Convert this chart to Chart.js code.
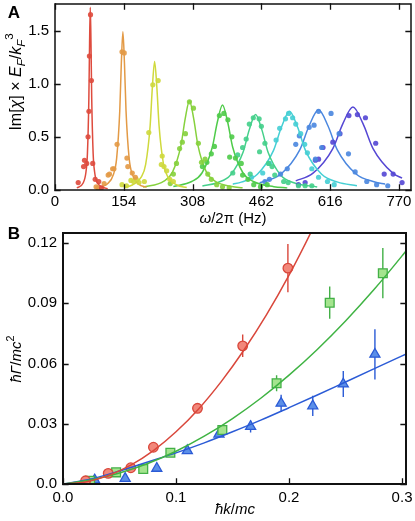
<!DOCTYPE html>
<html>
<head>
<meta charset="utf-8">
<title>Resonances and damping</title>
<style>
  body, html { margin:0; padding:0; background:#fff; width:415px; height:521px; overflow:hidden; }
  canvas { position:absolute; left:0; }
  #chartA { top:0; }
  #chartB { top:222px; }
</style>
</head>
<body>
<canvas id="chartA" width="415" height="232"></canvas>
<canvas id="chartB" width="415" height="299"></canvas>
<script src="https://cdn.jsdelivr.net/npm/chart.js"></script>
<script>
// ---- panel A : response peaks, [frequency, Im chi] ----
const freqTicks = [0, 154, 308, 462, 616, 770];
const chiTicks = [0, 0.5, 1.0, 1.5];
const peakColors = ['#de4b3e', '#e39a46', '#cfd93c', '#86d13d', '#4fcb4a', '#44d08a', '#45cfd4', '#4b87df', '#5547d4'];

const dots1 = [[52,0.07],[64,0.22],[66,0.28],[71,0.25],[74,0.50],[76,0.74],[77,1.26],[79.5,1.65],[81.5,1.03],[84.5,0.25],[90,0.10],[98,0.08],[104,0.02]];
const dots2 = [[92,0.03],[96,0.02],[110,0.06],[119,0.14],[122,0.15],[129,0.20],[132,0.20],[139,0.43],[150,1.30],[155,1.29],[161,0.30],[163,0.22],[173,0.16],[180,0.12]];
const dots3 = [[150,0.05],[160,0.04],[170,0.09],[176,0.08],[182,0.10],[188,0.07],[200,0.08],[210,0.54],[219,0.99],[231,1.03],[240,0.32],[238,0.24],[244,0.22],[250,0.18],[257,0.10],[265,0.08]];
const dots4 = [[258,0.06],[265,0.15],[272,0.25],[279,0.39],[285,0.45],[292,0.53],[301,0.83],[310,0.77],[321,0.44],[328,0.26],[336,0.29],[342,0.15],[350,0.10],[362,0.05],[375,0.03],[390,0.02]];
const dots5 = [[330,0.22],[340,0.26],[350,0.34],[357,0.41],[368,0.70],[378,0.72],[387,0.66],[396,0.50],[391,0.31],[404,0.30],[417,0.25],[420,0.14],[432,0.10],[445,0.05],[460,0.03],[475,0.05]];
const dots6 = [[398,0.16],[409,0.33],[420,0.40],[428,0.48],[435,0.62],[444,0.68],[457,0.67],[462,0.60],[458,0.36],[470,0.44],[478,0.25],[486,0.22],[492,0.14],[437,0.15],[512,0.08],[522,0.07],[545,0.04],[560,0.04],[575,0.04]];
const dots7 = [[440,0.12],[465,0.16],[480,0.25],[495,0.47],[503,0.58],[516,0.67],[523,0.72],[532,0.68],[539,0.62],[550,0.53],[559,0.43],[565,0.35],[575,0.20],[590,0.12],[610,0.08],[625,0.05]];
const dots8 = [[470,0.08],[480,0.10],[505,0.15],[520,0.20],[539,0.43],[547,0.51],[569,0.59],[580,0.61],[590,0.74],[597,0.40],[583,0.29],[618,0.72],[636,0.53],[657,0.34],[672,0.17],[698,0.08],[720,0.05],[745,0.04]];
const dots9 = [[545,0.05],[560,0.07],[583,0.28],[590,0.29],[600,0.40],[622,0.45],[638,0.53],[658,0.70],[677,0.71],[695,0.68],[718,0.44],[737,0.15],[757,0.15],[777,0.07]];

const fit1 = [[49,0.02],[63,0.066],[69.4,0.172],[72.6,0.344],[75.8,0.86],[77.4,1.376],[79,1.72],[80.6,1.376],[82.2,0.86],[85.4,0.344],[88.6,0.172],[95,0.066],[118,0.013]];
const fit2 = [[104,0.03],[117,0.057],[131,0.149],[138,0.298],[145,0.745],[148.5,1.192],[152,1.49],[155.5,1.192],[159,0.745],[166,0.298],[173,0.149],[187,0.057],[205,0.026]];
const fit3 = [[154,0.025],[173,0.047],[193,0.121],[203,0.242],[213,0.605],[218,0.968],[223,1.21],[228,0.968],[233,0.605],[243,0.242],[253,0.121],[273,0.047],[295,0.023]];
const fit4 = [[197,0.027],[244,0.084],[263,0.168],[282,0.42],[291.5,0.672],[301,0.84],[310.5,0.672],[320,0.42],[339,0.168],[358,0.084],[396,0.032],[420,0.021]];
const fit5 = [[265,0.033],[306,0.08],[329,0.16],[352,0.40],[363.5,0.64],[375,0.80],[386.5,0.64],[398,0.40],[421,0.16],[444,0.08],[490,0.031],[520,0.02]];
const fit6 = [[330,0.037],[365,0.071],[393,0.142],[421,0.355],[435,0.568],[449,0.71],[463,0.568],[477,0.355],[505,0.142],[533,0.071],[587,0.028]];
const fit7 = [[398,0.055],[417,0.074],[453,0.148],[489,0.37],[507,0.592],[525,0.74],[543,0.592],[561,0.37],[597,0.148],[633,0.074],[676,0.04]];
const fit8 = [[458,0.069],[464,0.0755],[506,0.151],[548,0.378],[569,0.604],[590,0.755],[611,0.604],[632,0.378],[674,0.151],[716,0.0755],[739,0.056]];
const fit9 = [[539,0.086],[577,0.156],[622,0.39],[644.5,0.624],[667,0.78],[689.5,0.624],[712,0.39],[757,0.156],[777,0.112]];

// ---- panel B : damping vs momentum ----
const kTicks = [0, 0.1, 0.2, 0.3];
const gammaTicks = [0, 0.03, 0.06, 0.09, 0.12];

const redK = [0.020, 0.040, 0.060, 0.080, 0.119, 0.159, 0.199];
const redG = [0.0016, 0.0053, 0.0081, 0.0183, 0.0377, 0.0688, 0.1075];
const redErr = [0.0005, 0.0005, 0.0008, 0.001, 0.0018, 0.0056, 0.012];
const greenK = [0.024, 0.047, 0.071, 0.095, 0.141, 0.189, 0.236, 0.283];
const greenG = [0.0016, 0.0058, 0.0075, 0.0156, 0.0269, 0.0502, 0.0903, 0.105];
const greenErr = [0.0005, 0.0008, 0.0008, 0.001, 0.0015, 0.004, 0.008, 0.0125];
const blueK = [0.028, 0.055, 0.083, 0.110, 0.138, 0.166, 0.193, 0.221, 0.248, 0.276];
const blueG = [0.0020, 0.0028, 0.0078, 0.0166, 0.0248, 0.0286, 0.0402, 0.0389, 0.0498, 0.0646];
const blueErr = [0.0005, 0.0008, 0.001, 0.0012, 0.0015, 0.003, 0.0043, 0.005, 0.0065, 0.0125];

const redFit = [[0,0],[0.02,0.001],[0.04,0.0042],[0.06,0.0094],[0.08,0.0166],[0.1,0.026],[0.12,0.0374],[0.14,0.051],[0.16,0.0666],[0.18,0.0842],[0.2,0.104],[0.22,0.126],[0.24,0.15]];
const greenFit = [[0,0],[0.025,0.0021],[0.05,0.0055],[0.075,0.0102],[0.1,0.0163],[0.125,0.0238],[0.15,0.0326],[0.175,0.0427],[0.2,0.0542],[0.225,0.067],[0.25,0.0812],[0.275,0.0967],[0.3,0.1136],[0.31,0.1207]];
const blueFit = [[0,0],[0.025,0.0025],[0.05,0.0065],[0.075,0.011],[0.1,0.0155],[0.125,0.0205],[0.15,0.026],[0.175,0.0318],[0.2,0.038],[0.225,0.0443],[0.25,0.0508],[0.275,0.0573],[0.3,0.0638],[0.31,0.0664]];

const FONT = '"Liberation Sans", Arial, sans-serif';

function pts(arr) { return arr.map(p => ({x: p[0], y: p[1]})); }
function zip(xs, ys) { return xs.map((x, i) => ({x: x, y: ys[i]})); }

// draws mixed roman/italic/sub/superscript text, centred on (cx, cy)
function richText(ctx, parts, cx, cy, rot, size) {
    ctx.save();
    ctx.translate(cx, cy);
    ctx.rotate(rot);
    let total = 0;
    const segs = parts.map(p => {
        const s = p.sub || p.sup ? size * 0.72 : size;
        const font = (p.it ? 'italic ' : '') + (p.b ? 'bold ' : '') + s + 'px ' + FONT;
        ctx.font = font;
        const w = ctx.measureText(p.t).width;
        total += w;
        return {t: p.t, font: font, w: w, dy: p.sub ? size * 0.3 : (p.sup ? -size * 0.42 : 0)};
    });
    let x = -total / 2;
    ctx.fillStyle = '#000';
    ctx.textBaseline = 'middle';
    segs.forEach(s => { ctx.font = s.font; ctx.fillText(s.t, x, s.dy); x += s.w; });
    ctx.restore();
}

// frame with inward ticks
const framePlugin = {
    id: 'frame',
    afterDatasetsDraw(chart, args, opts) {
        const {ctx, chartArea: a, scales: {x, y}} = chart;
        const L = 5;
        ctx.save();
        ctx.lineCap = 'square';
        ctx.strokeStyle = opts.color || '#111';
        ctx.lineWidth = opts.width || 1.3;
        ctx.beginPath();
        x.ticks.forEach(t => {
            const px = Math.round(x.getPixelForValue(t.value)) + 0.5;
            ctx.moveTo(px, a.bottom); ctx.lineTo(px, a.bottom - L);
            if (opts.top) { ctx.moveTo(px, a.top); ctx.lineTo(px, a.top + L); }
        });
        y.ticks.forEach(t => {
            const py = Math.round(y.getPixelForValue(t.value)) + 0.5;
            ctx.moveTo(a.left, py); ctx.lineTo(a.left + L, py);
            ctx.moveTo(a.right, py); ctx.lineTo(a.right - L, py);
        });
        ctx.stroke();
        ctx.lineWidth = opts.spine || 1.5;
        ctx.strokeRect(a.left, a.top, a.right - a.left, a.bottom - a.top);
        ctx.restore();
    },
    afterDraw(chart, args, opts) {
        const ctx = chart.ctx;
        (opts.texts || []).forEach(tx => richText(ctx, tx.parts, tx.x, tx.y, tx.rot || 0, tx.size || 15));
    }
};

// vertical error bars from the data arrays
const errPlugin = {
    id: 'errbars',
    beforeDatasetsDraw(chart, args, opts) {
        const {ctx, scales: {x, y}} = chart;
        ctx.save();
        ctx.lineWidth = 1.4;
        (opts.sets || []).forEach(s => {
            ctx.strokeStyle = s.color;
            ctx.beginPath();
            s.k.forEach((k, i) => {
                const px = x.getPixelForValue(k);
                ctx.moveTo(px, y.getPixelForValue(s.g[i] - s.e[i]));
                ctx.lineTo(px, y.getPixelForValue(s.g[i] + s.e[i]));
            });
            ctx.stroke();
        });
        ctx.restore();
    }
};

function noPad(s) { s.paddingLeft = 0; s.paddingRight = 0; s.paddingTop = 0; s.paddingBottom = 0; }
function fixedTicks(list) { return s => { s.ticks = list.map(v => ({value: v})); }; }
const tickFont = {family: FONT, size: 15};

// ---- chart A ----
const dotSets = [dots1, dots2, dots3, dots4, dots5, dots6, dots7, dots8, dots9];
const fitSets = [fit1, fit2, fit3, fit4, fit5, fit6, fit7, fit8, fit9];
const dsA = [];
dotSets.forEach((d, i) => dsA.push({
    data: pts(d), showLine: false, pointRadius: 2.6, pointBorderWidth: 0,
    pointBackgroundColor: peakColors[i] + 'e8'
}));
fitSets.forEach((f, i) => dsA.push({
    data: pts(f), showLine: true, pointRadius: 0, borderWidth: 1.5,
    borderColor: peakColors[i], cubicInterpolationMode: 'monotone', fill: false
}));

new Chart(document.getElementById('chartA'), {
    type: 'scatter',
    data: {datasets: dsA},
    options: {
        responsive: false, animation: false, devicePixelRatio: 1,
        layout: {padding: {top: 2, right: 3, left: 0, bottom: 0}},
        plugins: {
            legend: {display: false}, tooltip: {enabled: false},
            frame: {
                top: true,
                texts: [
                    {parts: [{t: 'A', b: true}], x: 14, y: 13, size: 17},
                    {parts: [{t: 'ω', it: true}, {t: '/2π (Hz)'}], x: 233, y: 219, size: 15},
                    {parts: [{t: 'Im['}, {t: 'χ', it: true}, {t: '] × '}, {t: 'E', it: true}, {t: 'F', it: true, sub: true},
                             {t: '/'}, {t: 'k', it: true}, {t: 'F', it: true, sub: true}, {t: '3', sup: true}],
                     x: 17, y: 82, rot: -Math.PI / 2, size: 16}
                ]
            }
        },
        scales: {
            x: {
                type: 'linear', min: 0, max: 797,
                afterBuildTicks: fixedTicks(freqTicks),
                grid: {display: false, drawTicks: false}, border: {display: false},
                ticks: {font: tickFont, color: '#000', padding: 3, maxRotation: 0},
                afterFit: s => { s.height = 42; noPad(s); }
            },
            y: {
                type: 'linear', min: 0, max: 1.75,
                afterBuildTicks: fixedTicks(chiTicks),
                grid: {display: false, drawTicks: false}, border: {display: false},
                ticks: {font: tickFont, color: '#000', padding: 6, callback: v => v.toFixed(1)},
                afterFit: s => { s.width = 55; noPad(s); }
            }
        }
    },
    plugins: [framePlugin]
});

// ---- chart B ----
new Chart(document.getElementById('chartB'), {
    type: 'scatter',
    data: {
        datasets: [
            {data: pts(redFit), showLine: true, pointRadius: 0, borderWidth: 1.5, borderColor: '#d9473b', cubicInterpolationMode: 'monotone'},
            {data: pts(greenFit), showLine: true, pointRadius: 0, borderWidth: 1.5, borderColor: '#3fb343', cubicInterpolationMode: 'monotone'},
            {data: pts(blueFit), showLine: true, pointRadius: 0, borderWidth: 1.5, borderColor: '#2b5bd6', cubicInterpolationMode: 'monotone'},
            {data: zip(redK, redG), pointStyle: 'circle', pointRadius: 4.8, pointBorderWidth: 1.3,
             pointBackgroundColor: '#f2877a', pointBorderColor: '#d9473b'},
            {data: zip(greenK, greenG), pointStyle: 'rect', pointRadius: 6.2, pointBorderWidth: 1.3,
             pointBackgroundColor: '#a4e48e', pointBorderColor: '#43b047'},
            {data: zip(blueK, blueG), pointStyle: 'triangle', pointRadius: 5.8, pointBorderWidth: 1.3,
             pointBackgroundColor: '#5b8fe8', pointBorderColor: '#2b5bd6'}
        ]
    },
    options: {
        responsive: false, animation: false, devicePixelRatio: 1,
        layout: {padding: {top: 11, right: 9, left: 0, bottom: 0}},
        plugins: {
            legend: {display: false}, tooltip: {enabled: false},
            errbars: {sets: [
                {k: redK, g: redG, e: redErr, color: '#d9473b'},
                {k: greenK, g: greenG, e: greenErr, color: '#43b047'},
                {k: blueK, g: blueG, e: blueErr, color: '#2b5bd6'}
            ]},
            frame: {
                top: false, spine: 2,
                texts: [
                    {parts: [{t: 'B', b: true}], x: 14, y: 12, size: 17},
                    {parts: [{t: 'ħk', it: true}, {t: '/'}, {t: 'mc', it: true}], x: 235, y: 288},
                    {parts: [{t: 'ħΓ', it: true}, {t: '/'}, {t: 'mc', it: true}, {t: '2', sup: true}],
                     x: 17, y: 137, rot: -Math.PI / 2}
                ]
            }
        },
        scales: {
            x: {
                type: 'linear', min: 0, max: 0.3035,
                afterBuildTicks: fixedTicks(kTicks),
                grid: {display: false, drawTicks: false}, border: {display: false},
                ticks: {font: tickFont, color: '#000', padding: 5, maxRotation: 0, callback: v => v.toFixed(1)},
                afterFit: s => { s.height = 37; noPad(s); }
            },
            y: {
                type: 'linear', min: 0, max: 0.125,
                afterBuildTicks: fixedTicks(gammaTicks),
                grid: {display: false, drawTicks: false}, border: {display: false},
                ticks: {font: tickFont, color: '#000', padding: 6, callback: v => v === 0 ? '0.0' : v.toFixed(2)},
                afterFit: s => { s.width = 63; noPad(s); }
            }
        }
    },
    plugins: [errPlugin, framePlugin]
});
</script>
</body>
</html>
